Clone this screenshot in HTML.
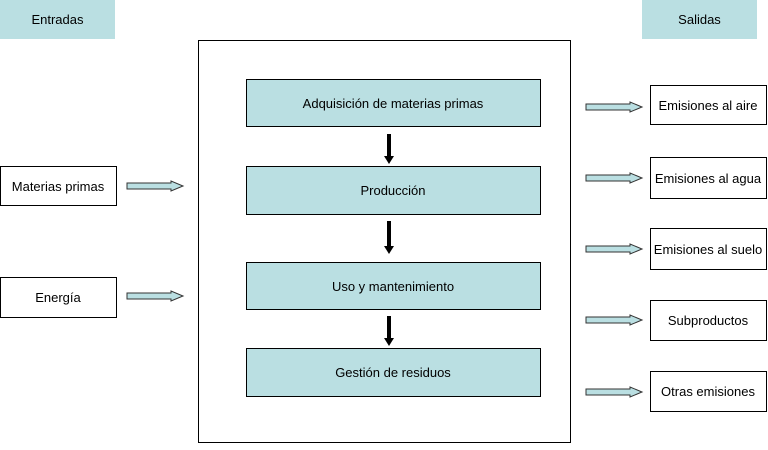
<!DOCTYPE html>
<html><head><meta charset="utf-8"><style>
body{margin:0;background:#fff;width:768px;height:445px;overflow:hidden}
</style></head><body>
<svg width="768" height="445" xmlns="http://www.w3.org/2000/svg" font-family="Liberation Sans, sans-serif" font-size="13" fill="#000">
<rect x="0" y="0" width="115" height="39" fill="#badfe2"/>
<text x="57.5" y="24" text-anchor="middle">Entradas</text>
<rect x="642" y="0" width="115" height="39" fill="#badfe2"/>
<text x="699.5" y="24" text-anchor="middle">Salidas</text>
<rect x="198.5" y="40.5" width="372" height="402" fill="#fff" stroke="#000"/>
<g fill="#badfe2" stroke="#000">
<rect x="246.5" y="79.5" width="294" height="47"/>
<rect x="246.5" y="166.5" width="294" height="48"/>
<rect x="246.5" y="262.5" width="294" height="47"/>
<rect x="246.5" y="348.5" width="294" height="48"/>
</g>
<g text-anchor="middle">
<text x="393" y="108">Adquisición de materias primas</text>
<text x="393" y="195">Producción</text>
<text x="393" y="291">Uso y mantenimiento</text>
<text x="393" y="377">Gestión de residuos</text>
</g>
<g fill="#000">
<rect x="387" y="134" width="4" height="24"/><polygon points="384,156 394,156 389,164"/>
<rect x="387" y="221" width="4" height="26"/><polygon points="384,246 394,246 389,254"/>
<rect x="387" y="316" width="4" height="23"/><polygon points="384,338 394,338 389,346"/>
</g>
<g fill="#fff" stroke="#000">
<rect x="0.5" y="166.5" width="116" height="39"/>
<rect x="0.5" y="277.5" width="116" height="40"/>
<rect x="650.5" y="85.5" width="116" height="39"/>
<rect x="650.5" y="157.5" width="116" height="41"/>
<rect x="650.5" y="228.5" width="116" height="41"/>
<rect x="650.5" y="300.5" width="116" height="40"/>
<rect x="650.5" y="371.5" width="116" height="40"/>
</g>
<text x="58" y="191" text-anchor="middle">Materias primas</text>
<text x="58" y="302" text-anchor="middle">Energía</text>
<g text-anchor="middle">
<text x="708" y="110">Emisiones al aire</text>
<text x="708" y="183">Emisiones al agua</text>
<text x="708" y="254">Emisiones al suelo</text>
<text x="708" y="325">Subproductos</text>
<text x="708" y="396">Otras emisiones</text>
</g>
<defs><g id="a"><polygon points="0,-3 44,-3 44,-5 56,0 44,5 44,3 0,3" fill="#badfe2" stroke="#333" stroke-width="1"/></g></defs>
<use href="#a" x="127" y="186"/>
<use href="#a" x="127" y="296"/>
<use href="#a" x="586" y="107"/>
<use href="#a" x="586" y="178"/>
<use href="#a" x="586" y="249"/>
<use href="#a" x="586" y="320"/>
<use href="#a" x="586" y="392"/>
</svg>
</body></html>
